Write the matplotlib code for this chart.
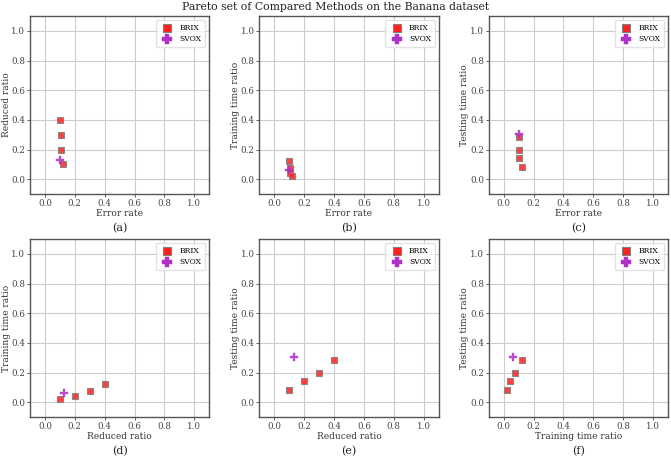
import matplotlib
matplotlib.use("Agg")
import matplotlib.pyplot as plt

plt.rcParams['font.family'] = ['DejaVu Serif']

# BRIX pareto points
brix_error = [0.10, 0.105, 0.105, 0.12]
brix_reduced = [0.40, 0.30, 0.20, 0.10]
brix_train = [0.12, 0.075, 0.045, 0.02]
brix_test = [0.285, 0.195, 0.14, 0.085]

# SVOX pareto point
svox_error = [0.10]
svox_reduced = [0.13]
svox_train = [0.06]
svox_test = [0.305]

metrics = {
    'Error rate': (brix_error, svox_error),
    'Reduced ratio': (brix_reduced, svox_reduced),
    'Training time ratio': (brix_train, svox_train),
    'Testing time ratio': (brix_test, svox_test),
}
pairs = [('Error rate', 'Reduced ratio'), ('Error rate', 'Training time ratio'),
         ('Error rate', 'Testing time ratio'), ('Reduced ratio', 'Training time ratio'),
         ('Reduced ratio', 'Testing time ratio'), ('Training time ratio', 'Testing time ratio')]
letters = ['(a)', '(b)', '(c)', '(d)', '(e)', '(f)']
ticks = [0.0, 0.2, 0.4, 0.6, 0.8, 1.0]

fig, axes = plt.subplots(2, 3, figsize=(6.71, 4.58), dpi=100)
fig.subplots_adjust(left=0.0447, right=0.9955, top=0.965, bottom=0.0895,
                    wspace=0.28, hspace=0.253)

for ax, (xm, ym), letter in zip(axes.flat, pairs, letters):
    bx, sx = metrics[xm]
    by, sy = metrics[ym]
    ax.scatter(bx, by, marker='s', s=20, color='#ff2020', alpha=0.85,
               edgecolor='gray', linewidth=0.8, label='BRIX', zorder=3)
    ax.scatter(sx, sy, marker='P', s=26, color='#b030c8', alpha=0.85,
               edgecolor='#b030c8', linewidth=0.3, label='SVOX', zorder=3)
    ax.set_xlim(-0.1, 1.1)
    ax.set_ylim(-0.1, 1.1)
    ax.set_xticks(ticks)
    ax.set_yticks(ticks)
    ax.tick_params(labelsize=6.2, colors='#444444', length=2.2, width=0.6, pad=1.2)
    ax.grid(True, color='#cccccc', linewidth=0.8)
    ax.set_axisbelow(True)
    for sp in ax.spines.values():
        sp.set_color('#555555')
        sp.set_linewidth(1.0)
    ax.set_xlabel(xm, fontsize=6.5, color='#333333', labelpad=1)
    ax.set_ylabel(ym, fontsize=6.5, color='#333333', labelpad=0.5)
    ax.text(0.5, -0.19, letter, transform=ax.transAxes, ha='center', va='center',
            fontsize=8, color='#222222')
    leg = ax.legend(loc='upper right', fontsize=5.5, frameon=True, framealpha=0.8,
                    edgecolor='#dddddd', handletextpad=0.6, borderpad=0.5,
                    labelspacing=0.5, markerscale=1.3)
    for h in leg.legend_handles:
        h.set_alpha(1)

fig.suptitle('Pareto set of Compared Methods on the Banana dataset', fontsize=7.8,
             y=0.995, color='#222222')
fig.savefig('out.png', dpi=100)
